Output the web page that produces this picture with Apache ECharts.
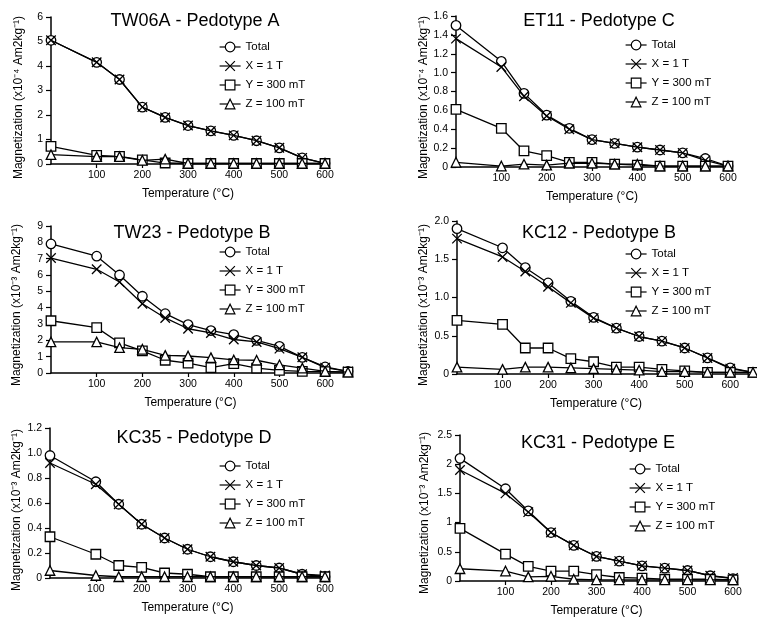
<!DOCTYPE html>
<html>
<head>
<meta charset="utf-8">
<script src="https://cdn.jsdelivr.net/npm/echarts@6.0.0/dist/echarts.min.js"></script>
<style>
html,body{margin:0;padding:0;background:#fff;}
#chart{width:757px;height:618px;}
</style>
</head>
<body>
<div id="chart"></div>
<script>
// Temperatures (°C)
const temps600 = [0, 100, 150, 200, 250, 300, 350, 400, 450, 500, 550, 600];
const temps650 = [0, 100, 150, 200, 250, 300, 350, 400, 450, 500, 550, 600, 650];
const xTickValues = [100, 200, 300, 400, 500, 600];
const seriesNames = ['Total', 'X = 1 T', 'Y = 300 mT', 'Z = 100 mT'];

// TW06A - Pedotype A (x10^-4)
const tw06aTotal = [5.05, 4.15, 3.45, 2.32, 1.9, 1.57, 1.35, 1.17, 0.95, 0.66, 0.25, 0.03];
const tw06aX     = [5.05, 4.15, 3.45, 2.32, 1.9, 1.57, 1.35, 1.17, 0.95, 0.66, 0.25, 0.03];
const tw06aY     = [0.72, 0.35, 0.31, 0.17, 0.04, 0.02, 0.02, 0.02, 0.02, 0.02, 0.02, 0.02];
const tw06aZ     = [0.38, 0.3, 0.3, 0.15, 0.2, 0.02, 0.02, 0.02, 0.02, 0.02, 0.02, 0.02];

// ET11 - Pedotype C (x10^-4)
const et11Total = [1.5, 1.12, 0.78, 0.55, 0.41, 0.29, 0.25, 0.21, 0.18, 0.15, 0.09, 0.01];
const et11X     = [1.36, 1.06, 0.75, 0.54, 0.4, 0.29, 0.25, 0.21, 0.18, 0.15, 0.07, 0.01];
const et11Y     = [0.61, 0.41, 0.17, 0.12, 0.05, 0.05, 0.03, 0.02, 0.01, 0.01, 0.01, 0.01];
const et11Z     = [0.05, 0.01, 0.03, 0.02, 0.04, 0.04, 0.03, 0.03, 0.01, 0.01, 0.01, 0.01];

// TW23 - Pedotype B (x10^-3)
const tw23Total = [7.9, 7.15, 6.0, 4.7, 3.63, 2.96, 2.6, 2.35, 2.0, 1.63, 0.96, 0.37, 0.1];
const tw23X     = [7.04, 6.35, 5.57, 4.24, 3.37, 2.71, 2.45, 2.05, 1.9, 1.49, 0.96, 0.33, 0.1];
const tw23Y     = [3.2, 2.78, 1.84, 1.35, 0.78, 0.61, 0.33, 0.57, 0.3, 0.16, 0.1, 0.08, 0.05];
const tw23Z     = [1.9, 1.9, 1.55, 1.45, 1.08, 1.04, 0.94, 0.8, 0.78, 0.5, 0.3, 0.1, 0.05];

// KC12 - Pedotype B (x10^-3)
const kc12Total = [1.9, 1.65, 1.39, 1.19, 0.95, 0.74, 0.6, 0.49, 0.43, 0.34, 0.21, 0.08, 0.02];
const kc12X     = [1.77, 1.53, 1.34, 1.14, 0.93, 0.73, 0.6, 0.49, 0.43, 0.34, 0.21, 0.07, 0.02];
const kc12Y     = [0.7, 0.65, 0.34, 0.34, 0.2, 0.16, 0.09, 0.09, 0.06, 0.04, 0.02, 0.02, 0.02];
const kc12Z     = [0.09, 0.06, 0.09, 0.09, 0.08, 0.07, 0.06, 0.05, 0.03, 0.03, 0.02, 0.02, 0.02];

// KC35 - Pedotype D (x10^-3)
const kc35Total = [0.98, 0.77, 0.59, 0.43, 0.32, 0.23, 0.17, 0.13, 0.1, 0.08, 0.03, 0.01];
const kc35X     = [0.92, 0.75, 0.59, 0.43, 0.32, 0.23, 0.17, 0.13, 0.1, 0.08, 0.03, 0.02];
const kc35Y     = [0.33, 0.19, 0.1, 0.085, 0.04, 0.03, 0.01, 0.01, 0.01, 0.01, 0.01, 0.01];
const kc35Z     = [0.06, 0.02, 0.01, 0.01, 0.01, 0.01, 0.01, 0.01, 0.01, 0.01, 0.01, 0.01];

// KC31 - Pedotype E (x10^-3)
const kc31Total = [2.1, 1.58, 1.2, 0.83, 0.61, 0.42, 0.34, 0.26, 0.22, 0.18, 0.09, 0.04];
const kc31X     = [1.9, 1.5, 1.18, 0.83, 0.61, 0.42, 0.34, 0.26, 0.22, 0.18, 0.09, 0.05];
const kc31Y     = [0.9, 0.46, 0.25, 0.17, 0.17, 0.11, 0.06, 0.05, 0.03, 0.03, 0.03, 0.02];
const kc31Z     = [0.21, 0.17, 0.07, 0.08, 0.03, 0.02, 0.02, 0.02, 0.02, 0.02, 0.02, 0.02];

const FONT = '"Liberation Sans", Arial, sans-serif';
const f1 = v => (v === 0 ? '0' : v.toFixed(1));
const fDef = v => String(Math.round(v * 10) / 10);

const panels = [
  { title: 'TW06A - Pedotype A', exp: '⁻⁴', temps: temps600, vals: [tw06aTotal, tw06aX, tw06aY, tw06aZ],
    grid: { left: 51, top: 17, width: 274, height: 147 }, xMax: 600, yMax: 6, yInt: 1, fmt: fDef,
    titleX: 195, titleY: 12, legX: 219, legY: 41, xNamePad: 0, yNameGap: 26, yNamePad: 14 },
  { title: 'ET11 - Pedotype C', exp: '⁻⁴', temps: temps600, vals: [et11Total, et11X, et11Y, et11Z],
    grid: { left: 456, top: 16, width: 272, height: 151 }, xMax: 600, yMax: 1.6, yInt: 0.2, fmt: f1,
    titleX: 599, titleY: 12, legX: 625, legY: 39, xNamePad: 0, yNameGap: 26, yNamePad: 12 },
  { title: 'TW23 - Pedotype B', exp: '⁻³', temps: temps650, vals: [tw23Total, tw23X, tw23Y, tw23Z],
    grid: { left: 51, top: 226, width: 297, height: 147 }, xMax: 650, yMax: 9, yInt: 1, fmt: fDef,
    titleX: 192, titleY: 224, legX: 219, legY: 246, xNamePad: 18, yNameGap: 28, yNamePad: 11 },
  { title: 'KC12 - Pedotype B', exp: '⁻³', temps: temps650, vals: [kc12Total, kc12X, kc12Y, kc12Z],
    grid: { left: 457, top: 221, width: 296, height: 153 }, xMax: 650, yMax: 2, yInt: 0.5, fmt: f1,
    titleX: 599, titleY: 224, legX: 625, legY: 248, xNamePad: 18, yNameGap: 27, yNamePad: 15 },
  { title: 'KC35 - Pedotype D', exp: '⁻³', temps: temps600, vals: [kc35Total, kc35X, kc35Y, kc35Z],
    grid: { left: 50, top: 428, width: 275, height: 150 }, xMax: 600, yMax: 1.2, yInt: 0.2, fmt: f1,
    titleX: 194, titleY: 429, legX: 219, legY: 460, xNamePad: 0, yNameGap: 27, yNamePad: 14 },
  { title: 'KC31 - Pedotype E', exp: '⁻³', temps: temps600, vals: [kc31Total, kc31X, kc31Y, kc31Z],
    grid: { left: 460, top: 435, width: 273, height: 150 }, xMax: 600, yMax: 2.5, yInt: 0.5, fmt: fDef,
    titleX: 598, titleY: 434, legX: 629, legY: 463, xNamePad: 0, yNameGap: 29, yNamePad: 10 }
];

const symbols = ['circle', 'path://M0,0L10,10M10,0L0,10', 'rect', 'triangle'];

const option = {
  backgroundColor: '#fff',
  animation: false,
  title: [], legend: [], grid: [], xAxis: [], yAxis: [], series: []
};

panels.forEach((p, i) => {
  option.grid.push(Object.assign({ containLabel: false }, p.grid));
  option.title.push({
    text: p.title, left: p.titleX, top: p.titleY, textAlign: 'center', padding: 0,
    textStyle: { fontSize: 18, fontWeight: 'normal', color: '#000', fontFamily: FONT }
  });
  option.legend.push({
    left: p.legX, top: p.legY, orient: 'vertical', itemWidth: 21, itemHeight: 12, itemGap: 7,
    padding: 0, selectedMode: false, data: seriesNames,
    itemStyle: { borderWidth: 1.2 }, lineStyle: { width: 1.2 },
    textStyle: { fontSize: 11.5, color: '#000', fontFamily: FONT }
  });
  option.xAxis.push({
    type: 'value', gridIndex: i, min: 0, max: p.xMax, interval: 100,
    name: 'Temperature (°C)', nameLocation: 'middle', nameGap: 24,
    nameTextStyle: { fontSize: 12, color: '#000', fontFamily: FONT, padding: [0, p.xNamePad, 0, 0] },
    axisLine: { show: true, onZero: false, lineStyle: { color: '#000', width: 1.5 } },
    axisTick: { show: true, length: 4, customValues: xTickValues, lineStyle: { color: '#000', width: 1.2 } },
    axisLabel: { customValues: xTickValues, fontSize: 10.5, color: '#000', margin: 6, fontFamily: FONT },
    splitLine: { show: false }
  });
  option.yAxis.push({
    type: 'value', gridIndex: i, min: 0, max: p.yMax, interval: p.yInt,
    name: 'Magnetization (x10' + p.exp + ' Am2kg⁻¹)', nameLocation: 'middle', nameGap: p.yNameGap,
    nameTextStyle: { fontSize: 12, color: '#000', fontFamily: FONT, padding: [0, p.yNamePad, 0, 0] },
    axisLine: { show: true, onZero: false, lineStyle: { color: '#000', width: 1.5 } },
    axisTick: { show: true, length: 5, lineStyle: { color: '#000', width: 1.2 } },
    axisLabel: { fontSize: 10.5, color: '#000', margin: 8, fontFamily: FONT, formatter: p.fmt },
    splitLine: { show: false }
  });
  p.vals.forEach((arr, k) => {
    option.series.push({
      type: 'line', name: seriesNames[k], xAxisIndex: i, yAxisIndex: i,
      data: p.temps.map((t, j) => [t, arr[j]]),
      symbol: symbols[k], symbolSize: 9.5, showAllSymbol: true,
      itemStyle: { color: '#fff', borderColor: '#000', borderWidth: 1.3 },
      lineStyle: { color: '#000', width: 1.3 },
      emphasis: { disabled: true }, z: 2 + k
    });
  });
});

const chart = echarts.init(document.getElementById('chart'), null, { renderer: 'canvas' });
chart.setOption(option);
</script>
</body>
</html>
